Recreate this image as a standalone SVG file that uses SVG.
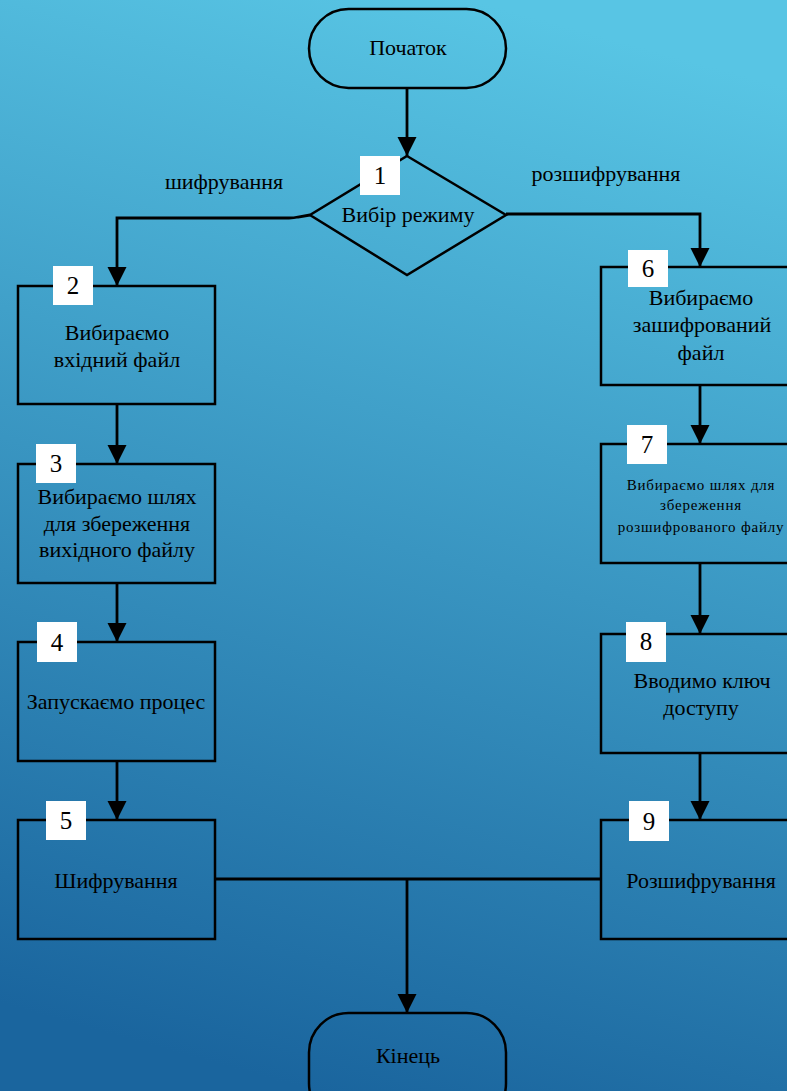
<svg xmlns="http://www.w3.org/2000/svg" width="787" height="1091" viewBox="0 0 787 1091">
<defs>
<linearGradient id="bg" x1="0.6" y1="0" x2="0.4" y2="1">
<stop offset="0" stop-color="#58c5e4"/>
<stop offset="1" stop-color="#1a659e"/>
</linearGradient>
<marker id="arr" markerUnits="userSpaceOnUse" markerWidth="20" markerHeight="20" viewBox="0 0 20 20" refX="19" refY="9.5" orient="auto">
<path d="M0,0 L19,9.5 L0,19 z" fill="#000"/>
</marker>
</defs>
<style>
.shape{fill:none;stroke:#000;stroke-width:2.5}
.conn{fill:none;stroke:#000;stroke-width:2.8}
.num{fill:#fff;stroke:none}
text{font-family:"Liberation Serif","Times New Roman",serif;fill:#000;text-anchor:middle}
.t{font-size:22px}
.n{font-size:25px}
.s{font-size:15px;letter-spacing:0.8px}
</style>
<rect x="0" y="0" width="787" height="1091" fill="url(#bg)"/>

<g id="connectors">
<line class="conn" x1="407" y1="88" x2="407" y2="156" marker-end="url(#arr)"/>
<path class="conn" d="M310,215 L298,217 Q294,218 289,218 L117,218 L117,286" marker-end="url(#arr)"/>
<path class="conn" d="M506,214 L700,214 L700,267" marker-end="url(#arr)"/>
<line class="conn" x1="117" y1="404" x2="117" y2="464" marker-end="url(#arr)"/>
<line class="conn" x1="117" y1="583" x2="117" y2="642" marker-end="url(#arr)"/>
<line class="conn" x1="117" y1="761" x2="117" y2="820" marker-end="url(#arr)"/>
<line class="conn" x1="700" y1="385" x2="700" y2="444" marker-end="url(#arr)"/>
<line class="conn" x1="700" y1="563" x2="700" y2="634" marker-end="url(#arr)"/>
<line class="conn" x1="700" y1="753" x2="700" y2="820" marker-end="url(#arr)"/>
<line class="conn" x1="215" y1="879" x2="601" y2="879"/>
<line class="conn" x1="407" y1="879" x2="407" y2="1013" marker-end="url(#arr)"/>
<text class="t" x="224" y="189">шифрування</text>
<text class="t" x="606" y="181">розшифрування</text>
</g>

<g id="start">
<rect class="shape" x="309" y="9" width="197" height="79" rx="39.5"/>
<text class="t" x="408" y="55">Початок</text>
</g>

<g id="n1">
<polygon class="shape" points="407,156 506,215 407,275 310,215"/>
<rect class="num" x="360" y="156" width="40" height="39"/>
<text class="n" x="380" y="184">1</text>
<text class="t" x="408" y="222">Вибір режиму</text>
</g>

<g id="n2">
<rect class="shape" x="18" y="286" width="197" height="118"/>
<rect class="num" x="53" y="266" width="40" height="39"/>
<text class="n" x="73" y="294">2</text>
<text class="t" x="117" y="340">Вибираємо</text>
<text class="t" x="117" y="367">вхідний файл</text>
</g>

<g id="n3">
<rect class="shape" x="18" y="464" width="197" height="119"/>
<rect class="num" x="36" y="444" width="40" height="39"/>
<text class="n" x="56" y="472">3</text>
<text class="t" x="117" y="504">Вибираємо шлях</text>
<text class="t" x="117" y="531">для збереження</text>
<text class="t" x="117" y="557">вихідного файлу</text>
</g>

<g id="n4">
<rect class="shape" x="18" y="642" width="197" height="119"/>
<rect class="num" x="37" y="622" width="40" height="40"/>
<text class="n" x="57" y="651">4</text>
<text class="t" x="116" y="709">Запускаємо процес</text>
</g>

<g id="n5">
<rect class="shape" x="18" y="820" width="197" height="119"/>
<rect class="num" x="46" y="801" width="40" height="39"/>
<text class="n" x="66" y="829">5</text>
<text class="t" x="116" y="888">Шифрування</text>
</g>

<g id="n6">
<rect class="shape" x="601" y="267" width="197" height="118"/>
<rect class="num" x="628" y="250" width="40" height="37"/>
<text class="n" x="648" y="277">6</text>
<text class="t" x="701" y="305">Вибираємо</text>
<text class="t" x="702" y="332">зашифрований</text>
<text class="t" x="701" y="360">файл</text>
</g>

<g id="n7">
<rect class="shape" x="601" y="444" width="197" height="119"/>
<rect class="num" x="627" y="425" width="40" height="39"/>
<text class="n" x="647" y="453">7</text>
<text class="s" x="701" y="490">Вибираємо шлях для</text>
<text class="s" x="701" y="510">збереження</text>
<text class="s" x="701" y="532">розшифрованого файлу</text>
</g>

<g id="n8">
<rect class="shape" x="601" y="634" width="197" height="119"/>
<rect class="num" x="626" y="622" width="40" height="40"/>
<text class="n" x="646" y="650">8</text>
<text class="t" x="702" y="688">Вводимо ключ</text>
<text class="t" x="701" y="715">доступу</text>
</g>

<g id="n9">
<rect class="shape" x="601" y="820" width="197" height="119"/>
<rect class="num" x="629" y="801" width="40" height="40"/>
<text class="n" x="649" y="830">9</text>
<text class="t" x="701" y="888">Розшифрування</text>
</g>

<g id="end">
<rect class="shape" x="309" y="1013" width="197" height="110" rx="39.5"/>
<text class="t" x="408" y="1063">Кінець</text>
</g>
</svg>
